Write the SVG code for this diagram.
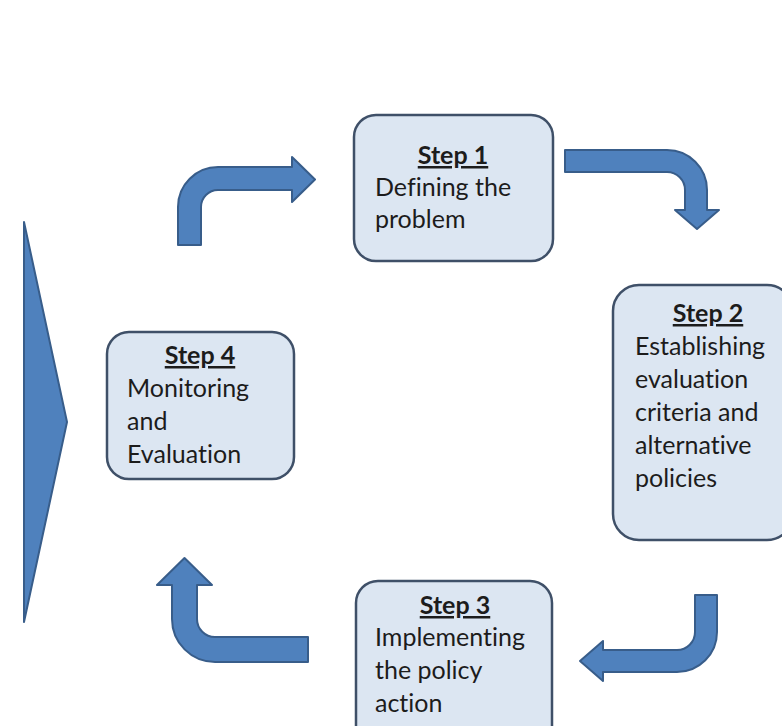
<svg xmlns="http://www.w3.org/2000/svg" width="782" height="726" viewBox="0 0 782 726">
  <style>
    .box { fill: #dce6f2; stroke: #3f5068; stroke-width: 2.5; }
    .arrow { fill: #4f81bd; stroke: #385d8a; stroke-width: 2; stroke-linejoin: round; }
    .label { font-family: Lato, "Open Sans", "Liberation Sans", sans-serif; font-size: 25px; fill: #1c1c1c; font-variant-ligatures: none; font-feature-settings: "liga" 0, "clig" 0; }
    .title { font-weight: bold; text-decoration: underline; text-anchor: middle; }
  </style>
  <rect width="782" height="726" fill="#ffffff"/>

  <!-- large chevron on the left edge -->
  <polygon class="arrow" points="24,222 67,422 24,622"/>

  <g id="connectors">
    <!-- step 4 to step 1: up, then right -->
    <path class="arrow" d="M178,245 L178,207 A40,40 0 0 1 218,167 L292,167 L292,157 L315,179.5 L292,202 L292,190 L218,190 A17,17 0 0 0 201,207 L201,245 Z"/>
    <!-- step 1 to step 2: right, then down -->
    <path class="arrow" d="M565,150 L667,150 A40,40 0 0 1 707,190 L707,210 L719,210 L697,229 L675,210 L685,210 L685,190 A18,18 0 0 0 667,172 L565,172 Z"/>
    <!-- step 2 to step 3: down, then left -->
    <path class="arrow" d="M695,595 L717,595 L717,632 A40,40 0 0 1 677,672 L603,672 L603,681 L580,661 L603,641 L603,650 L677,650 A18,18 0 0 0 695,632 Z"/>
    <!-- step 3 to step 4: left, then up -->
    <path class="arrow" d="M308,637 L215,637 A18,18 0 0 1 197,619 L197,585 L212,585 L184.5,558 L157,585 L172,585 L172,619 A43,43 0 0 0 215,662 L308,662 Z"/>
  </g>

  <g id="step1">
    <rect class="box" x="354" y="115" width="199" height="146" rx="22"/>
    <text class="label title" x="453" y="164">Step 1</text>
    <text class="label" x="375" y="196">Defining the</text>
    <text class="label" x="375" y="228">problem</text>
  </g>

  <g id="step2">
    <rect class="box" x="613" y="285" width="180" height="255" rx="26"/>
    <text class="label title" x="708" y="322">Step 2</text>
    <text class="label" x="635" y="355">Establishing</text>
    <text class="label" x="635" y="388">evaluation</text>
    <text class="label" x="635" y="421">criteria and</text>
    <text class="label" x="635" y="454">alternative</text>
    <text class="label" x="635" y="487">policies</text>
  </g>

  <g id="step3">
    <rect class="box" x="356" y="581" width="196" height="170" rx="22"/>
    <text class="label title" x="455" y="614">Step 3</text>
    <text class="label" x="375" y="646">Implementing</text>
    <text class="label" x="375" y="679">the policy</text>
    <text class="label" x="375" y="712">action</text>
  </g>

  <g id="step4">
    <rect class="box" x="107" y="332" width="187" height="147" rx="22"/>
    <text class="label title" x="200" y="364">Step 4</text>
    <text class="label" x="127" y="397">Monitoring</text>
    <text class="label" x="127" y="430">and</text>
    <text class="label" x="127" y="463">Evaluation</text>
  </g>
</svg>
